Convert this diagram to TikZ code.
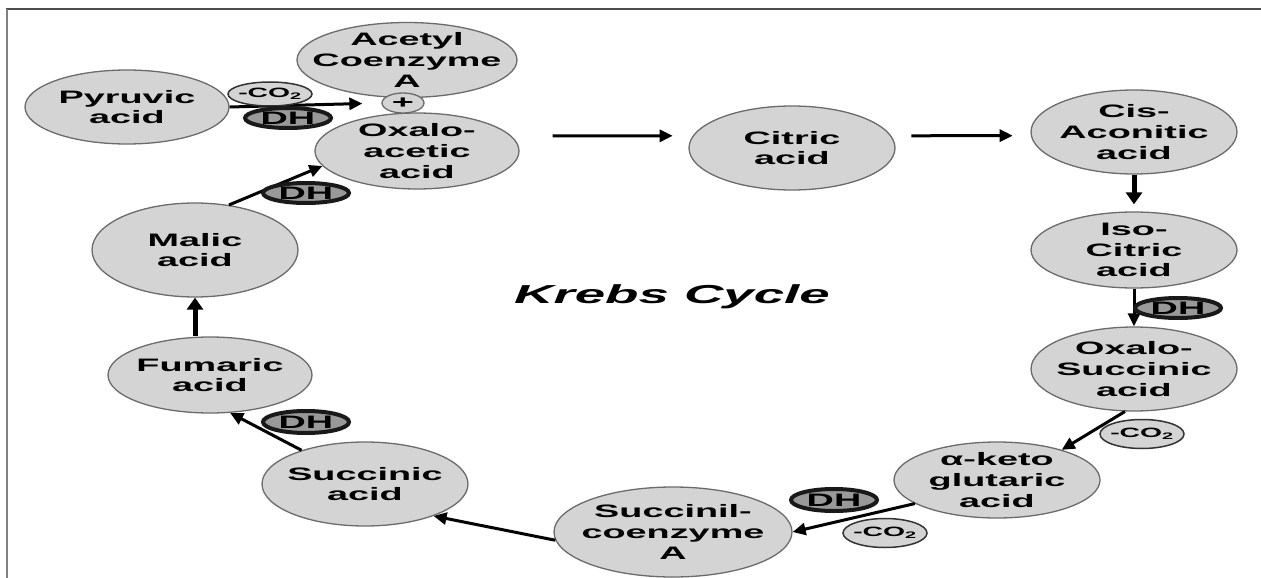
\documentclass[tikz,border=0pt]{standalone}
\usepackage{fontspec}
\usetikzlibrary{shapes.geometric,arrows.meta}
\newfontfamily\lab{Liberation Sans}[FakeStretch=2.1]
\definecolor{ellfill}{gray}{0.83}
\definecolor{ellline}{gray}{0.42}
\definecolor{dhfill}{gray}{0.6}
\begin{document}
\begin{tikzpicture}[x=1pt,y=-1pt,
  cell/.style={ellipse, draw=ellline, fill=ellfill, line width=1.3pt, inner sep=0pt},
  lbl/.style={font=\lab\bfseries\fontsize{18}{20.8}\selectfont, align=center, inner sep=0pt},
  dhtxt/.style={font=\lab\bfseries\fontsize{18}{18}\selectfont, inner sep=0pt},
  cotxt/.style={font=\lab\bfseries\fontsize{13.5}{14}\selectfont, inner sep=0pt},
  dhb/.style={ellipse, draw=black!90, fill=dhfill, line width=4pt, minimum width=86pt, minimum height=20pt, inner sep=0pt, label={[dhtxt]center:DH}},
  cob/.style={ellipse, draw=black!80, fill=ellfill, line width=1.5pt, minimum width=84pt, inner sep=0pt, label={[cotxt]center:-CO\textsubscript{2}}},
  arr/.style={line width=3pt, -{Triangle[length=13pt,width=12pt]}},
  bigarr/.style={line width=5pt, -{Triangle[length=12pt,width=16pt]}},
  frame/.style={line width=2pt}
]
\useasboundingbox (0,0) rectangle (1261,578);
% frame
\coordinate (f1) at (6,9.5);
\coordinate (f2) at (1261,9.5);
\coordinate (f3) at (7,578);
\coordinate (f4) at (7,9.5);
\draw[frame, draw=black!70] (f1) -- (f2);
\draw[frame, draw=black!50] (f4) -- (f3);

% main ellipses
\node[cell, minimum width=204pt, minimum height=74pt, label={[lbl]center:Pyruvic\\acid}] (pyr) at (127,107) {};
\node[cell, minimum width=220pt, minimum height=75pt, label={[lbl]center:Acetyl\\Coenzyme\\A}] (acy) at (407,60) {};
\node[cell, minimum width=204pt, minimum height=76pt, label={[lbl]center:Oxalo-\\acetic\\acid}] (oxa) at (417,151) {};
\node[cell, minimum width=206pt, minimum height=84pt, label={[lbl]center:Citric\\acid}] (cit) at (792,148) {};
\node[cell, minimum width=206pt, minimum height=84pt, label={[lbl]center:Cis-\\Aconitic\\acid}] (cis) at (1134,132) {};
\node[cell, minimum width=206pt, minimum height=76pt, label={[lbl]center:Iso-\\Citric\\acid}] (iso) at (1134,250) {};
\node[cell, minimum width=206pt, minimum height=84pt, label={[lbl]center:Oxalo-\\Succinic\\acid}] (osu) at (1134,369) {};
\node[cell, minimum width=206pt, minimum height=76pt, label={[lbl]center:α-keto\\glutaric\\acid}] (akg) at (997,480) {};
\node[cell, minimum width=238pt, minimum height=90pt, label={[lbl]center:Succinil-\\coenzyme\\A}] (sco) at (673,532) {};
\node[cell, minimum width=206pt, minimum height=84pt, label={[lbl]center:Succinic\\acid}] (suc) at (365,484) {};
\node[cell, minimum width=204pt, minimum height=76pt, label={[lbl]center:Fumaric\\acid}] (fum) at (210,375) {};
\node[cell, minimum width=206pt, minimum height=94pt, label={[lbl]center:Malic\\acid}] (mal) at (195,250) {};

\node[font=\lab\bfseries\itshape\fontsize{26}{26}\selectfont, inner sep=0pt] (title) at (672,297) {Krebs Cycle};

\node[ellipse, draw=ellline, fill=ellfill, line width=1.3pt, minimum width=42pt, minimum height=20pt, inner sep=0pt, label={[dhtxt]center:+}] (plus) at (403,103) {};

% connectors
\draw[arr, shorten >=19pt] (pyr.east) -- (plus.west);
\draw[arr] (mal.53) -- (oxa.189);
\draw[bigarr] (mal.south |- fum.north) -- (mal.south);
\draw[arr] (suc.152) -- (fum.298);
\draw[arr] (sco.184) -- (suc.335);
\draw[arr] (akg.196) -- (sco.east);
\draw[arr] (osu.258) -- (akg.25);
\draw[arr] (iso.south) -- (osu.north);
\draw[bigarr, shorten >=7pt] (cis.south) -- (iso.north);
\draw[arr, shorten <=41pt, shorten >=20pt] (oxa.9) -- (cit.173);
\draw[arr, shorten <=20pt, shorten >=18pt] (cit.7) -- (cis.182);

% bubbles
\node[cob, minimum height=24pt] (co2a) at (270,94) {};
\node[dhb] (dha) at (288,118) {};
\node[dhb] (dhb1) at (306,193) {};
\node[dhb, minimum height=22pt] (dhc) at (306,422) {};
\node[dhb, minimum height=22pt] (dhd) at (834,500) {};
\node[cob, minimum height=29pt] (co2b) at (885,533) {};
\node[cob, minimum height=29pt] (co2c) at (1142,434) {};
\node[dhb] (dhe) at (1178,308) {};
\end{tikzpicture}
\end{document}
